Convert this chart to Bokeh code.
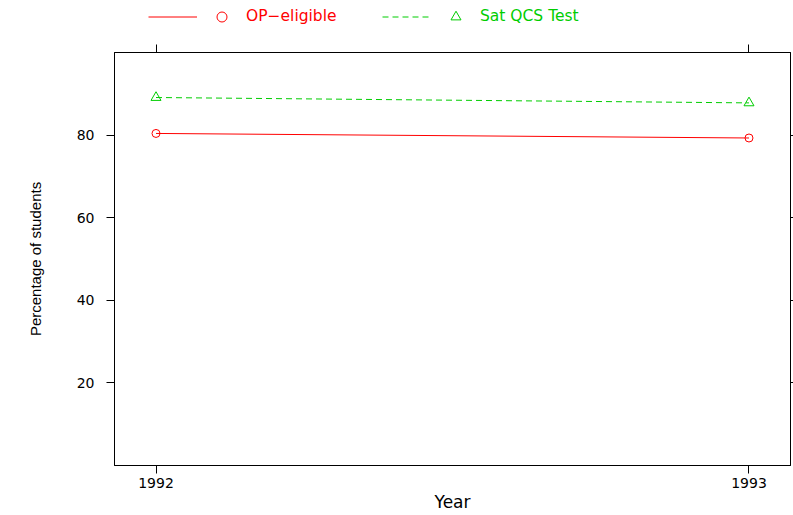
from bokeh.plotting import figure
from bokeh.models import Range1d, LinearAxis, FixedTicker, Legend, LegendItem
from bokeh.layouts import column
from bokeh.embed import file_html
from bokeh.resources import INLINE

# ---- data ----
years = [1992, 1993]
op_eligible = [80.4, 79.3]
sat_qcs = [89.1, 87.8]
y_ticks = [20, 40, 60, 80]
x_ticks = [1992, 1993]
series_names = ["OP\u2212eligible", "Sat QCS Test"]

RED = "#FF0000"
GREEN = "#00CD00"
FONT = "DejaVu Sans"

W = 793
LEG_H = 30
MAIN_H = 515 - LEG_H
FRAME_LEFT = 114

p = figure(width=W, height=MAIN_H, output_backend="svg", toolbar_location=None,
           x_range=Range1d(1991.93, 1993.07), y_range=Range1d(0, 100),
           x_axis_location=None, y_axis_location=None,
           min_border_left=FRAME_LEFT, min_border_right=3, min_border_top=52 - LEG_H,
           min_border_bottom=50)
p.grid.visible = False
p.outline_line_color = "black"
p.outline_line_width = 1
p.background_fill_color = "white"
p.border_fill_color = "white"

def style_axis(ax, show_labels, ticks):
    ax.axis_line_color = "black"
    ax.major_tick_line_color = "black"
    ax.minor_tick_line_color = None
    ax.major_tick_in = 0
    ax.major_label_text_font = FONT
    ax.major_label_text_color = "black"
    ax.major_label_text_font_size = "14px"
    ax.axis_label_text_color = "black"
    if not show_labels:
        ax.major_label_overrides = {t: "" for t in ticks}
        ax.major_label_standoff = 0

left = LinearAxis(ticker=FixedTicker(ticks=y_ticks))
style_axis(left, True, y_ticks)
left.major_tick_out = 8
left.major_label_standoff = 12
left.axis_label = "Percentage of students"
left.axis_label_text_font = "Liberation Sans"
left.axis_label_text_font_size = "15px"
left.axis_label_text_font_style = "normal"
left.axis_label_standoff = 30
p.add_layout(left, "left")

bottom = LinearAxis(ticker=FixedTicker(ticks=x_ticks))
style_axis(bottom, True, x_ticks)
bottom.major_tick_out = 8
bottom.major_label_standoff = 4
bottom.axis_label = "Year"
bottom.axis_label_text_font = FONT
bottom.axis_label_text_font_size = "17px"
bottom.axis_label_text_font_style = "normal"
bottom.axis_label_standoff = 1
p.add_layout(bottom, "below")

top = LinearAxis(ticker=FixedTicker(ticks=x_ticks))
style_axis(top, False, x_ticks)
top.major_tick_out = 8
p.add_layout(top, "above")

right = LinearAxis(ticker=FixedTicker(ticks=y_ticks))
style_axis(right, False, y_ticks)
right.major_tick_out = 3
p.add_layout(right, "right")

# ---- series ----
p.line(years, op_eligible, line_color=RED, line_width=1)
p.scatter(years, op_eligible, marker="circle", size=8, fill_alpha=0,
          line_color=RED, line_width=1)
p.line(years, sat_qcs, line_color=GREEN, line_width=1, line_dash="6 4")
p.scatter(years, sat_qcs, marker="triangle", size=10, fill_alpha=0,
          line_color=GREEN, line_width=1)

# ---- legend strip (key above the panel) ----
# the strip's ranges keep its copies of the series out of view; only the key shows
k = figure(width=W, height=LEG_H, output_backend="svg", toolbar_location=None,
           x_range=Range1d(0, 1), y_range=Range1d(0, 1),
           x_axis_location=None, y_axis_location=None,
           min_border_left=0, min_border_right=0, min_border_top=0, min_border_bottom=0)
k.grid.visible = False
k.outline_line_color = None
k.background_fill_color = "white"
k.border_fill_color = "white"
kl1 = k.line(years, op_eligible, line_color=RED, line_width=1)
km1 = k.scatter(years, op_eligible, marker="circle", fill_alpha=0, line_color=RED, line_width=1)
kl2 = k.line(years, sat_qcs, line_color=GREEN, line_width=1, line_dash="6 4")
km2 = k.scatter(years, sat_qcs, marker="triangle", fill_alpha=0, line_color=GREEN, line_width=1)

GH = 25
def make_legend(items, color, loc):
    return Legend(items=items, orientation="horizontal", location=loc,
                  glyph_width=49, glyph_height=GH, label_width=0, label_height=GH,
                  label_standoff=0, spacing=0, padding=0, margin=0,
                  border_line_alpha=0, background_fill_alpha=0,
                  label_text_font=FONT, label_text_font_size="15.5px",
                  label_text_color=color)

leg_y = LEG_H - (16 + GH / 2)
lg1 = make_legend([LegendItem(label="", renderers=[kl1]),
                   LegendItem(label=series_names[0], renderers=[km1])],
                  RED, (148 - FRAME_LEFT, leg_y))
lg2 = make_legend([LegendItem(label="", renderers=[kl2]),
                   LegendItem(label=series_names[1], renderers=[km2])],
                  GREEN, (382 - FRAME_LEFT, leg_y))
k.add_layout(lg1, "center")
k.add_layout(lg2, "center")

layout = column(k, p, spacing=0)
open("out.html", "w").write(file_html(layout, INLINE))
